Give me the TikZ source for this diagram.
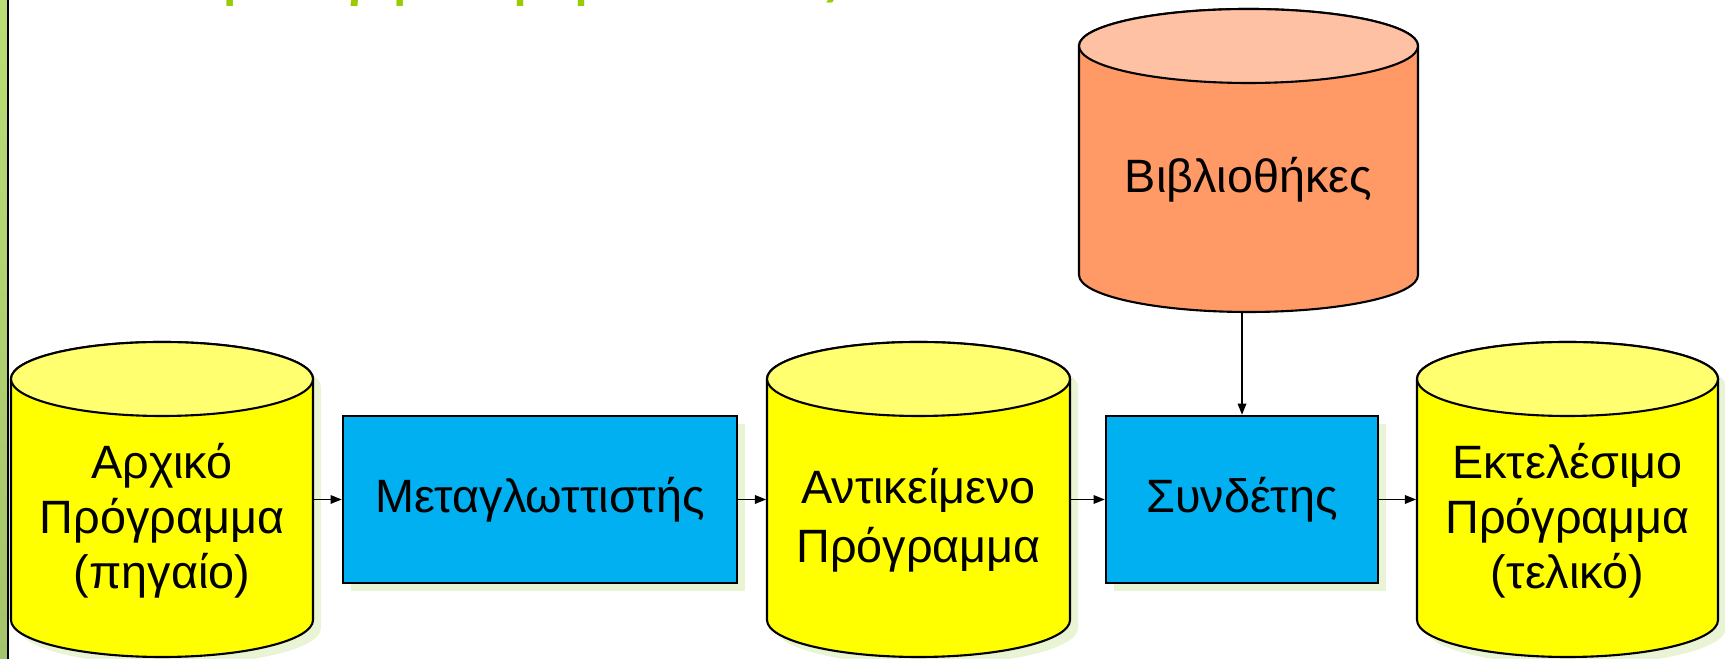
\documentclass[tikz,border=0pt]{standalone}
\usepackage{fontspec}
\setmainfont{Liberation Sans}
\newfontfamily\titlefont{Open Sans}[LetterSpace=15]
\usetikzlibrary{arrows.meta, shadows}

\definecolor{titlegreen}{HTML}{99CC00}
\definecolor{stripgreen}{HTML}{BADD76}
\definecolor{stripdark}{HTML}{A5C36A}
\definecolor{storeyellow}{HTML}{FFFF00}
\definecolor{storetop}{HTML}{FFFF70}
\definecolor{libbody}{HTML}{FF9966}
\definecolor{libtop}{HTML}{FFC1A4}
\definecolor{procblue}{HTML}{00B0F0}
\definecolor{glowgreen}{HTML}{E8F4D4}

% cylinder: centre x, top rim y, bottom rim y, x radius, y radius, body, lid
\newcommand\storecyl[7]{%
  \filldraw[fill=#6, line width=0.6pt] (#1-#4, #2) -- (#1-#4, #3)
    arc[start angle=180, end angle=0, x radius=#4, y radius=#5] -- (#1+#4, #2)
    arc[start angle=0, end angle=-180, x radius=#4, y radius=#5] -- cycle;
  \filldraw[fill=#7, line width=0.6pt] (#1, #2) ellipse[x radius=#4, y radius=#5];
}
\newcommand\cylglow[5]{%
  \fill[glowgreen] (#1-#4+8, #2+8) -- (#1-#4+8, #3+8)
    arc[start angle=180, end angle=0, x radius=#4, y radius=#5] -- (#1+#4+8, #2+8)
    arc[start angle=0, end angle=-180, x radius=#4, y radius=#5] -- cycle;
}

\tikzset{
  diagtext/.style={font=\fontsize{13.3}{15.6}\selectfont, align=center, inner sep=0pt},
  storelabel/.style={diagtext},
  procbox/.style={rectangle, draw=black, line width=0.6pt, fill=procblue,
    minimum height=1.67cm, diagtext,
    drop shadow={shadow xshift=0.08cm, shadow yshift=-0.08cm,
      fill=glowgreen, opacity=1}},
  flow/.style={-{Triangle[length=3.2pt, width=2.4pt]}, line width=0.5pt}
}

\begin{document}
\begin{tikzpicture}[x=0.01cm, y=-0.01cm]

\useasboundingbox (0, 0) rectangle (1725, 659);
\clip (0, 0) rectangle (1725, 659);

\shade[top color=stripgreen, bottom color=stripdark] (0, 0) rectangle (8, 659);
\draw[line width=0.6pt] (8, 0) -- (8, 659);

\node[anchor=base west, inner sep=0pt, text=titlegreen,
  font=\titlefont\fontsize{22.5}{27}\selectfont] (title) at (150, -12) {Προγράμματος};

\cylglow{162}{379}{620}{151}{37}
\cylglow{918.5}{379}{620}{151.5}{37}
\cylglow{1567.5}{379}{620}{150.5}{37}

\storecyl{162}{379}{620}{151}{37}{storeyellow}{storetop}
\storecyl{918.5}{379}{620}{151.5}{37}{storeyellow}{storetop}
\storecyl{1567.5}{379}{620}{150.5}{37}{storeyellow}{storetop}
\storecyl{1248.5}{46}{275}{169.5}{37}{libbody}{libtop}

\node[storelabel, minimum width=3.02cm] (src) at (162, 521)
  {Αρχικό\\Πρόγραμμα\\(πηγαίο)};
\node[procbox, minimum width=3.94cm] (comp) at (540, 499.5) {Μεταγλωττιστής};
\node[storelabel, minimum width=3.03cm, font=\fontsize{13.3}{16.8}\selectfont]
  (obj) at (918.5, 520) {Αντικείμενο\\Πρόγραμμα};
\node[procbox, minimum width=2.72cm] (link) at (1242, 499.5) {Συνδέτης};
\node[storelabel, minimum width=3.01cm] (exe) at (1567.5, 521)
  {Εκτελέσιμο\\Πρόγραμμα\\(τελικό)};
\node[storelabel, minimum width=3.39cm, minimum height=2.64cm] (libs)
  at (1248.5, 180) {Βιβλιοθήκες};

\draw[flow] (comp.west -| src.east) -- (comp.west);
\draw[flow] (comp.east) -- (comp.east -| obj.west);
\draw[flow] (link.west -| obj.east) -- (link.west);
\draw[flow] (link.east) -- (link.east -| exe.west);
\draw[flow] (link.north |- libs.south) -- (link.north);

\end{tikzpicture}
\end{document}
